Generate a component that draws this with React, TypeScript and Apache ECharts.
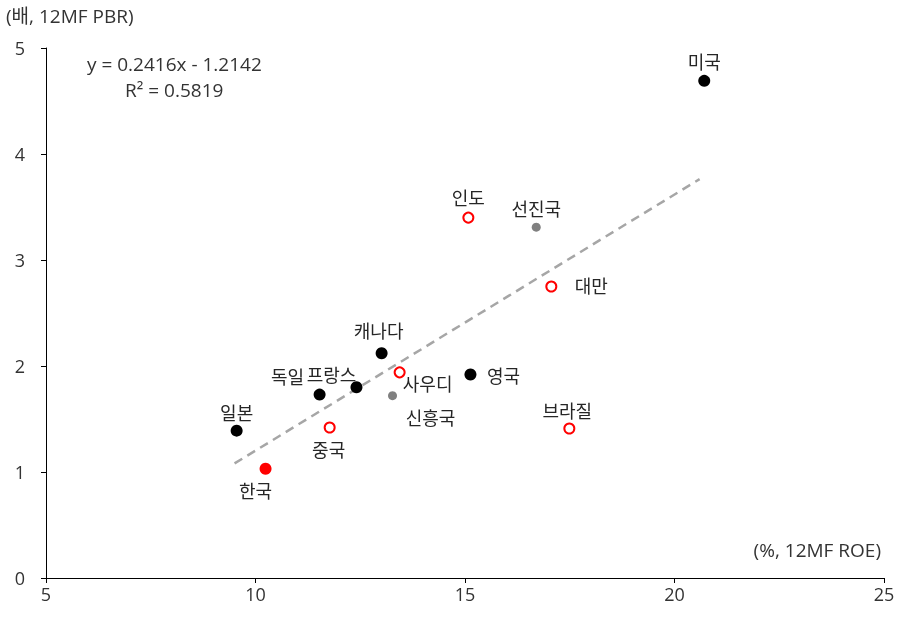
import React, { useEffect, useRef } from "react";
import * as echarts from "echarts";

const names = ["미국", "인도", "선진국", "대만", "캐나다", "사우디", "영국", "프랑스", "독일", "신흥국", "일본", "중국", "브라질", "한국"];
const roe = [20.71, 15.08, 16.7, 17.06, 13.01, 13.44, 15.13, 12.41, 11.53, 13.27, 9.55, 11.77, 17.49, 10.24];
const pbr = [4.69, 3.4, 3.31, 2.75, 2.12, 1.94, 1.92, 1.8, 1.73, 1.72, 1.39, 1.42, 1.41, 1.03];
const groups = ["dev", "emHollow", "agg", "emHollow", "dev", "emHollow", "dev", "dev", "dev", "agg", "dev", "emHollow", "emHollow", "korea"];
const slope = 0.2416;
const intercept = -1.2142;
const trendRange = [9.5, 20.6];
const xTicks = [5, 10, 15, 20, 25];
const yTicks = [0, 1, 2, 3, 4, 5];

const labelOffsets: Record<string, [number, number]> = {
  "미국": [0, -20],
  "인도": [0, -21],
  "선진국": [0, -19],
  "대만": [40, -2],
  "캐나다": [-3, -23],
  "사우디": [28, 11],
  "영국": [33, 1],
  "프랑스": [-25, -13],
  "독일": [-32, -19],
  "신흥국": [38, 21],
  "일본": [0, -19],
  "중국": [-1, 22],
  "브라질": [-2, -19],
  "한국": [-10, 21],
};

const FONT = "'Open Sans', 'Noto Sans CJK KR', sans-serif";
const KFONT = "'Noto Sans CJK KR', 'Open Sans', sans-serif";
const TEXT = "#333333";

const groupStyles: Record<string, any> = {
  dev: { symbolSize: 12, itemStyle: { color: "#000000", opacity: 1 } },
  korea: { symbolSize: 12, itemStyle: { color: "#FF0000", opacity: 1 } },
  emHollow: { symbolSize: 10, itemStyle: { color: "#FFFFFF", borderColor: "#FF0000", borderWidth: 2, opacity: 1 } },
  agg: { symbolSize: 9, itemStyle: { color: "#808080", opacity: 1 } },
};

export default function App() {
  const ref = useRef<HTMLDivElement>(null);
  useEffect(() => {
    if (!ref.current) return;
    const chart = echarts.init(ref.current, undefined, { renderer: "svg" });
    const scatterSeries = Object.keys(groupStyles).map((g) => ({
      type: "scatter",
      name: g,
      symbolSize: groupStyles[g].symbolSize,
      itemStyle: groupStyles[g].itemStyle,
      z: 3,
      data: names
        .map((n, i) => ({ n, i }))
        .filter(({ i }) => groups[i] === g)
        .map(({ n, i }) => ({
          name: n,
          value: [roe[i], pbr[i]],
          label: {
            show: true,
            formatter: n,
            position: "inside",
            align: "center",
            verticalAlign: "middle",
            offset: labelOffsets[n],
            color: "#262626",
            fontSize: 18,
            fontFamily: KFONT,
          },
        })),
    }));
    chart.setOption({
      animation: false,
      grid: { left: 46, right: 35, top: 48, bottom: 41 },
      xAxis: {
        type: "value",
        min: 5,
        max: 25,
        interval: 5,
        splitLine: { show: false },
        axisLine: { show: true, onZero: false, lineStyle: { color: "#000", width: 1 } },
        axisTick: { show: true, length: 5, lineStyle: { color: "#000" } },
        axisLabel: {
          color: TEXT,
          fontSize: 18,
          fontFamily: FONT,
          margin: 7,
          formatter: (v: number) => (xTicks.includes(v) ? String(v) : ""),
        },
      },
      yAxis: {
        type: "value",
        min: 0,
        max: 5,
        interval: 1,
        splitLine: { show: false },
        axisLine: { show: true, onZero: false, lineStyle: { color: "#000", width: 1 } },
        axisTick: { show: true, length: 5, lineStyle: { color: "#000" } },
        axisLabel: {
          color: TEXT,
          fontSize: 18,
          fontFamily: FONT,
          margin: 21,
          formatter: (v: number) => (yTicks.includes(v) ? String(v) : ""),
        },
      },
      graphic: [
        { type: "text", left: 6, top: 6, style: { text: "(배, 12MF PBR)", fontSize: 19, fontFamily: FONT, fill: TEXT } },
        { type: "text", right: 38, top: 540, style: { text: "(%, 12MF ROE)", fontSize: 19, fontFamily: FONT, fill: TEXT } },
        { type: "text", left: 87, top: 54, style: { text: "y = 0.2416x - 1.2142", fontSize: 19, fontFamily: FONT, fill: TEXT } },
        { type: "text", left: 125, top: 80, style: { text: "R² = 0.5819", fontSize: 19, fontFamily: FONT, fill: TEXT } },
      ],
      series: [
        {
          type: "line",
          name: "trend",
          symbol: "none",
          silent: true,
          z: 2,
          lineStyle: { color: "#A6A6A6", width: 2.5, type: [9, 6] },
          data: trendRange.map((x) => [x, slope * x + intercept]),
        },
        ...scatterSeries,
      ],
    });
    return () => chart.dispose();
  }, []);
  return <div ref={ref} style={{ position: "fixed", left: 0, top: 0, width: 919, height: 619 }} />;
}
